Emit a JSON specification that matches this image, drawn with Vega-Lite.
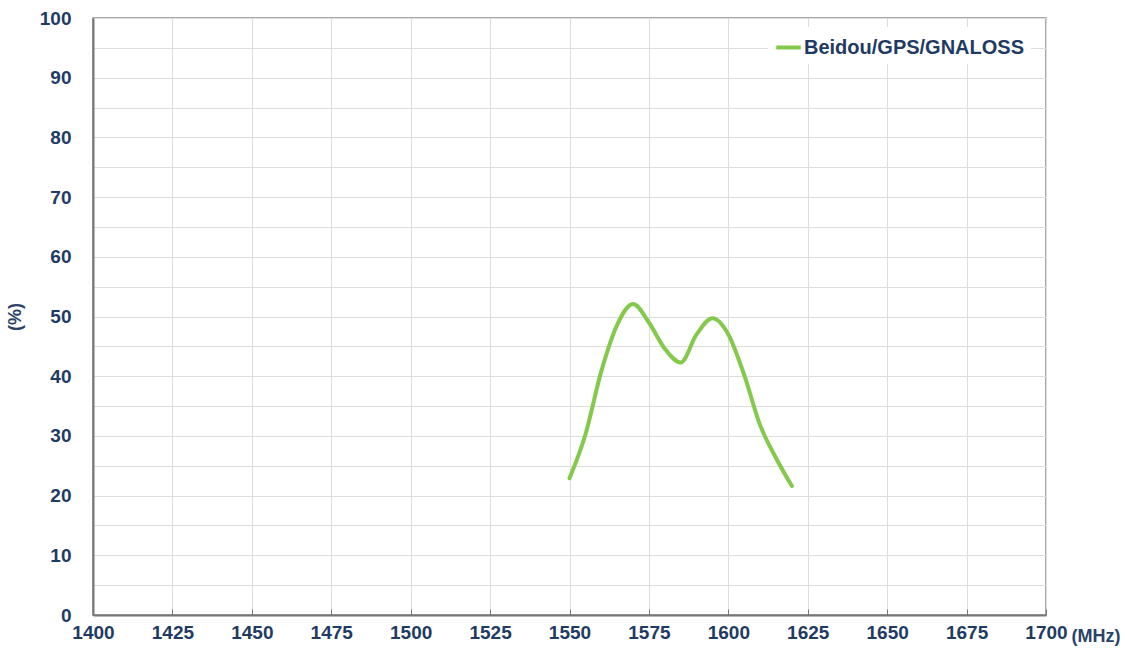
{
  "$schema": "https://vega.github.io/schema/vega-lite/v6.json",
  "width": 953,
  "height": 597,
  "autosize": {"type": "none"},
  "padding": {"left": 93, "top": 18, "right": 79, "bottom": 40},
  "background": "white",
  "config": {
    "view": {"stroke": "#8a8a8a", "strokeWidth": 1.5},
    "font": "Liberation Sans"
  },
  "data": {
    "values": [
      {"freq": 1550, "eff": 22.9, "series": "Beidou/GPS/GNALOSS"},
      {"freq": 1555, "eff": 30.2, "series": "Beidou/GPS/GNALOSS"},
      {"freq": 1560, "eff": 40.8, "series": "Beidou/GPS/GNALOSS"},
      {"freq": 1565, "eff": 48.6, "series": "Beidou/GPS/GNALOSS"},
      {"freq": 1570, "eff": 52.1, "series": "Beidou/GPS/GNALOSS"},
      {"freq": 1575, "eff": 49.0, "series": "Beidou/GPS/GNALOSS"},
      {"freq": 1580, "eff": 44.6, "series": "Beidou/GPS/GNALOSS"},
      {"freq": 1585, "eff": 42.3, "series": "Beidou/GPS/GNALOSS"},
      {"freq": 1590, "eff": 47.0, "series": "Beidou/GPS/GNALOSS"},
      {"freq": 1595, "eff": 49.7, "series": "Beidou/GPS/GNALOSS"},
      {"freq": 1600, "eff": 47.0, "series": "Beidou/GPS/GNALOSS"},
      {"freq": 1605, "eff": 40.2, "series": "Beidou/GPS/GNALOSS"},
      {"freq": 1610, "eff": 31.8, "series": "Beidou/GPS/GNALOSS"},
      {"freq": 1615, "eff": 26.3, "series": "Beidou/GPS/GNALOSS"},
      {"freq": 1620, "eff": 21.6, "series": "Beidou/GPS/GNALOSS"}
    ]
  },
  "mark": {"type": "line", "interpolate": "monotone", "strokeWidth": 4, "strokeCap": "round", "strokeJoin": "round"},
  "encoding": {
    "x": {
      "field": "freq",
      "type": "quantitative",
      "scale": {"domain": [1400, 1700], "nice": false},
      "axis": {
        "values": [1400, 1425, 1450, 1475, 1500, 1525, 1550, 1575, 1600, 1625, 1650, 1675, 1700],
        "format": "d",
        "title": "(MHz)",
        "titleAnchor": "end",
        "titleAlign": "left",
        "titleBaseline": "middle",
        "titleX": 978,
        "titleY": 21,
        "titleFontSize": 18,
        "titleFontWeight": "bold",
        "titleColor": "#2a4468",
        "labelFontSize": 19,
        "labelFontWeight": "bold",
        "labelColor": "#1f3b63",
        "labelPadding": 14,
        "labelFlush": false,
        "domainColor": "#777777",
        "domainWidth": 2,
        "tickColor": "#777777",
        "tickSize": -6,
        "gridColor": "#dddddd",
        "gridWidth": 1
      }
    },
    "y": {
      "field": "eff",
      "type": "quantitative",
      "scale": {"domain": [0, 100], "nice": false},
      "axis": {
        "values": [0, 5, 10, 15, 20, 25, 30, 35, 40, 45, 50, 55, 60, 65, 70, 75, 80, 85, 90, 95, 100],
        "labelExpr": "datum.value % 10 === 0 ? datum.label : ''",
        "title": "(%)",
        "titleFontSize": 18,
        "titleFontWeight": "bold",
        "titleColor": "#2a4468",
        "titlePadding": 15,
        "labelFontSize": 19,
        "labelFontWeight": "bold",
        "labelColor": "#1f3b63",
        "labelPadding": 22,
        "labelFlush": false,
        "ticks": false,
        "domainColor": "#777777",
        "domainWidth": 2,
        "gridColor": "#dddddd",
        "gridWidth": 1
      }
    },
    "color": {
      "field": "series",
      "type": "nominal",
      "scale": {"range": ["#84c94a"]},
      "legend": {
        "title": null,
        "orient": "none",
        "legendX": 675,
        "legendY": 9,
        "fillColor": "white",
        "padding": 6,
        "symbolType": "stroke",
        "symbolStrokeWidth": 4,
        "symbolSize": 600,
        "labelFontSize": 20,
        "labelFontWeight": "bold",
        "labelColor": "#1f3b63",
        "labelOffset": 1,
        "labelLimit": 400
      }
    }
  }
}
